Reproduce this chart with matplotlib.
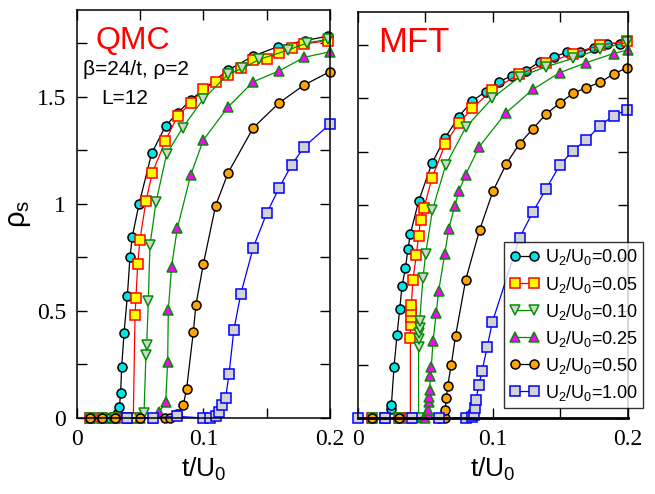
import matplotlib
matplotlib.use("Agg")
import matplotlib.pyplot as plt
from matplotlib.ticker import MultipleLocator, FuncFormatter

# tick numbers are serif in the original, everything else sans
plt.rcParams['font.family'] = ['Liberation Serif', 'DejaVu Serif']
plt.rcParams['mathtext.fontset'] = 'custom'
plt.rcParams['mathtext.rm'] = 'Liberation Sans'
plt.rcParams['mathtext.it'] = 'Liberation Sans:italic'
SANS = ['Liberation Sans', 'DejaVu Sans']

# ---- data: QMC (left panel) ----
qmc_t_000 = [0.01, 0.02, 0.025, 0.030, 0.032, 0.0335, 0.0345, 0.0353, 0.0372, 0.0398, 0.0419, 0.0437, 0.049,
             0.059, 0.070, 0.0796, 0.0899, 0.0999, 0.1196, 0.1394, 0.159, 0.180, 0.1987]
qmc_r_000 = [0, 0, 0, 0, 0.02, 0.051, 0.118, 0.238, 0.397, 0.569, 0.752, 0.846, 0.998,
             1.235, 1.363, 1.425, 1.484, 1.534, 1.625, 1.690, 1.734, 1.762, 1.783]

qmc_t_005 = [0.01, 0.02, 0.03, 0.04, 0.0445, 0.0459, 0.0466, 0.048, 0.0498, 0.0545, 0.0596, 0.0698, 0.0796,
             0.0899, 0.0999, 0.1096, 0.1196, 0.1294, 0.1394, 0.150, 0.160, 0.1697, 0.1797, 0.1987]
qmc_r_005 = [0, 0, 0, 0, 0, 0.480, 0.561, 0.717, 0.833, 1.012, 1.145, 1.293, 1.411,
             1.469, 1.534, 1.570, 1.601, 1.632, 1.671, 1.676, 1.706, 1.726, 1.746, 1.762]

qmc_t_010 = [0.01, 0.02, 0.03, 0.04, 0.05, 0.053, 0.0545, 0.0551, 0.0564, 0.0577, 0.0625, 0.0709, 0.0835,
             0.0999, 0.1196, 0.1307, 0.1441, 0.167, 0.1823, 0.1987]
qmc_r_010 = [0, 0, 0, 0, 0, 0.023, 0.293, 0.340, 0.547, 0.807, 1.009, 1.232, 1.355,
             1.489, 1.606, 1.632, 1.674, 1.718, 1.752, 1.768]

qmc_t_025 = [0.01, 0.02, 0.03, 0.04, 0.05, 0.06, 0.0651, 0.0701, 0.0717, 0.0722, 0.0748, 0.0793, 0.0899,
             0.0999, 0.1196, 0.1394, 0.160, 0.1797, 0.20]
qmc_r_025 = [0, 0, 0, 0, 0, 0, 0.028, 0.075, 0.262, 0.503, 0.706, 0.885, 1.134,
             1.298, 1.453, 1.570, 1.621, 1.684, 1.710]

qmc_t_050 = [0.01, 0.02, 0.030, 0.0498, 0.0696, 0.0735, 0.0793, 0.084, 0.0867, 0.092, 0.094, 0.0999,
             0.1096, 0.1196, 0.1394, 0.160, 0.1797, 0.20]
qmc_r_050 = [0, 0, 0, 0, 0, 0, 0.020, 0.059, 0.137, 0.402, 0.526, 0.718,
             0.991, 1.146, 1.355, 1.472, 1.555, 1.617]

qmc_t_100 = [0.0398, 0.0598, 0.0793, 0.0999, 0.105, 0.1096, 0.1123, 0.1149, 0.1175, 0.1202, 0.1241,
             0.1296, 0.1394, 0.150, 0.160, 0.1697, 0.1797, 0.20]
qmc_r_100 = [0, 0, 0.008, 0, 0, 0.008, 0.028, 0.059, 0.093, 0.204, 0.413,
             0.581, 0.796, 0.955, 1.076, 1.181, 1.266, 1.372]

# ---- data: MFT (right panel) ----
mft_t_000 = [0.01, 0.02, 0.0247, 0.0247, 0.0267, 0.0289, 0.0309, 0.0326, 0.0351, 0.037, 0.0388, 0.0449,
             0.0548, 0.0647, 0.0746, 0.0847, 0.0946, 0.1044, 0.1143, 0.1242, 0.1346, 0.1449, 0.1548,
             0.1647, 0.1746, 0.1844, 0.1943]
mft_r_000 = [0, 0, 0.044, 0.059, 0.241, 0.389, 0.511, 0.620, 0.702, 0.791, 0.864, 1.017,
             1.196, 1.316, 1.414, 1.488, 1.531, 1.578, 1.606, 1.628, 1.671, 1.695, 1.715,
             1.715, 1.737, 1.757, 1.757]

mft_t_005 = [0.01, 0.02, 0.03, 0.0388, 0.0388, 0.039, 0.0395, 0.0395, 0.0395, 0.0407, 0.0432, 0.0449,
             0.0464, 0.0489, 0.0548, 0.0647, 0.0746, 0.0847, 0.0995, 0.1193, 0.1395, 0.1593, 0.179, 0.1993]
mft_r_005 = [0, 0, 0, 0, 0.374, 0.438, 0.475, 0.503, 0.531, 0.648, 0.765, 0.854,
             0.931, 0.986, 1.126, 1.287, 1.383, 1.453, 1.539, 1.612, 1.664, 1.710, 1.749, 1.768]

mft_t_010 = [0.01, 0.02, 0.03, 0.04, 0.0449, 0.0449, 0.0452, 0.0454, 0.0457, 0.0457, 0.0481, 0.0501,
             0.0551, 0.0649, 0.0798, 0.0995, 0.1198, 0.1395, 0.1593, 0.179, 0.1993]
mft_r_010 = [0, 0, 0, 0, 0, 0.332, 0.371, 0.397, 0.422, 0.456, 0.656, 0.768,
             0.974, 1.185, 1.363, 1.500, 1.601, 1.648, 1.687, 1.731, 1.762]

mft_t_025 = [0.01, 0.03, 0.05, 0.0519, 0.0519, 0.0523, 0.0526, 0.0531, 0.0536, 0.0543, 0.0556, 0.058,
             0.0598, 0.0642, 0.0672, 0.0716, 0.0748, 0.0798, 0.0896, 0.1094, 0.1296, 0.1494, 0.1691,
             0.1894, 0.20]
mft_r_025 = [0, 0, 0, 0.017, 0.039, 0.075, 0.098, 0.132, 0.195, 0.241, 0.360, 0.495,
             0.597, 0.768, 0.885, 0.994, 1.064, 1.142, 1.271, 1.430, 1.542, 1.620, 1.667,
             1.710, 1.727]

mft_t_050 = [0.01, 0.03, 0.06, 0.0642, 0.0647, 0.0654, 0.0664, 0.0691, 0.0723, 0.0798, 0.0901, 0.1,
             0.1099, 0.1198, 0.1296, 0.1395, 0.1494, 0.1593, 0.1691, 0.1795, 0.1894, 0.1993]
mft_r_050 = [0, 0, 0, 0, 0.039, 0.095, 0.150, 0.249, 0.386, 0.648, 0.882, 1.064,
             1.193, 1.287, 1.357, 1.427, 1.477, 1.523, 1.550, 1.575, 1.614, 1.643]

mft_t_100 = [0.0, 0.0202, 0.0402, 0.0598, 0.0798, 0.0847, 0.0857, 0.0864, 0.0872, 0.0896, 0.0919, 0.0958,
             0.0995, 0.1198, 0.1296, 0.1395, 0.1494, 0.1593, 0.1691, 0.1795, 0.1894, 0.1993]
mft_r_100 = [0, 0, 0, 0, 0, 0.005, 0.012, 0.047, 0.083, 0.153, 0.220, 0.335,
             0.449, 0.846, 0.967, 1.076, 1.185, 1.255, 1.305, 1.372, 1.419, 1.445]

labels = ['0.00', '0.05', '0.10', '0.25', '0.50', '1.00']

# marker, face, edge, line colour
styles = [
    ('o', '#00e5e5', 'black', 'black'),
    ('s', '#ffff00', '#ff0000', '#ff0000'),
    ('v', '#d3d3d3', '#009000', '#009000'),
    ('^', '#ff00ff', '#009000', '#009000'),
    ('o', '#ffa500', 'black', 'black'),
    ('s', '#d3d3d3', '#0000ff', '#0000ff'),
]

qmc = [(qmc_t_000, qmc_r_000), (qmc_t_005, qmc_r_005), (qmc_t_010, qmc_r_010),
       (qmc_t_025, qmc_r_025), (qmc_t_050, qmc_r_050), (qmc_t_100, qmc_r_100)]
mft = [(mft_t_000, mft_r_000), (mft_t_005, mft_r_005), (mft_t_010, mft_r_010),
       (mft_t_025, mft_r_025), (mft_t_050, mft_r_050), (mft_t_100, mft_r_100)]

fig = plt.figure(figsize=(6.55, 4.94), dpi=100)
ax1 = fig.add_axes([0.1176, 0.1538, 0.386, 0.826])
ax2 = fig.add_axes([0.5466, 0.1538, 0.412, 0.822])

handles = []
for ax, data in [(ax1, qmc), (ax2, mft)]:
    for (t, r), (m, fc, ec, lc), lab in zip(data, styles, labels):
        h, = ax.plot(t, r, color=lc, lw=0.9, marker=m, ms=6.5, mfc=fc, mec=ec, mew=1.1,
                     label=r'U$_2$/U$_0$=' + lab, clip_on=False)
        if ax is ax2:
            handles.append(h)
    ax.set_xlim(0, 0.2)
    ax.set_ylim(0, 1.905)
    ax.xaxis.set_major_locator(MultipleLocator(0.1))
    ax.xaxis.set_minor_locator(MultipleLocator(0.05))
    ax.yaxis.set_major_locator(MultipleLocator(0.5))
    ax.yaxis.set_minor_locator(MultipleLocator(0.25))
    ax.xaxis.set_major_formatter(FuncFormatter(lambda v, p: '%g' % round(v, 2)))
    ax.yaxis.set_major_formatter(FuncFormatter(lambda v, p: '%g' % v))
    ax.tick_params(which='both', direction='in', top=True, right=True, width=1, length=7)
    ax.tick_params(which='major', labelsize=17, pad=8)
    ax.set_xlabel(r't/U$_0$', fontsize=19, labelpad=4, family=SANS)
    for s in ax.spines.values():
        s.set_linewidth(1.1)

ax2.tick_params(labelleft=False)
ax2.spines['bottom'].set_linewidth(2)
ax1.set_ylabel(r'ρ$_\mathrm{s}$', fontsize=21, family=SANS)
ax1.yaxis.set_label_coords(-0.175, 0.5)

ax1.text(0.075, 0.96, 'QMC', transform=ax1.transAxes, color='red', fontsize=23, va='top', family=SANS)
ax1.text(0.233, 0.853, 'β=24/t, ρ=2', transform=ax1.transAxes, ha='center', fontsize=15, va='center',
         family=SANS)
ax1.text(0.19, 0.784, 'L=12', transform=ax1.transAxes, ha='center', fontsize=15, va='center', family=SANS)
ax2.text(0.075, 0.965, 'MFT', transform=ax2.transAxes, color='red', fontsize=25, va='top', family=SANS)

leg = fig.legend(handles=handles, loc='upper right', bbox_to_anchor=(0.982, 0.510),
                 borderaxespad=0, numpoints=2, frameon=True, fancybox=False,
                 prop={'family': SANS, 'size': 13},
                 handlelength=1.65, handletextpad=0.3, labelspacing=0.39, borderpad=0.3)
leg.get_frame().set_edgecolor('black')
leg.get_frame().set_linewidth(1.0)

fig.savefig('out.png', dpi=100)
